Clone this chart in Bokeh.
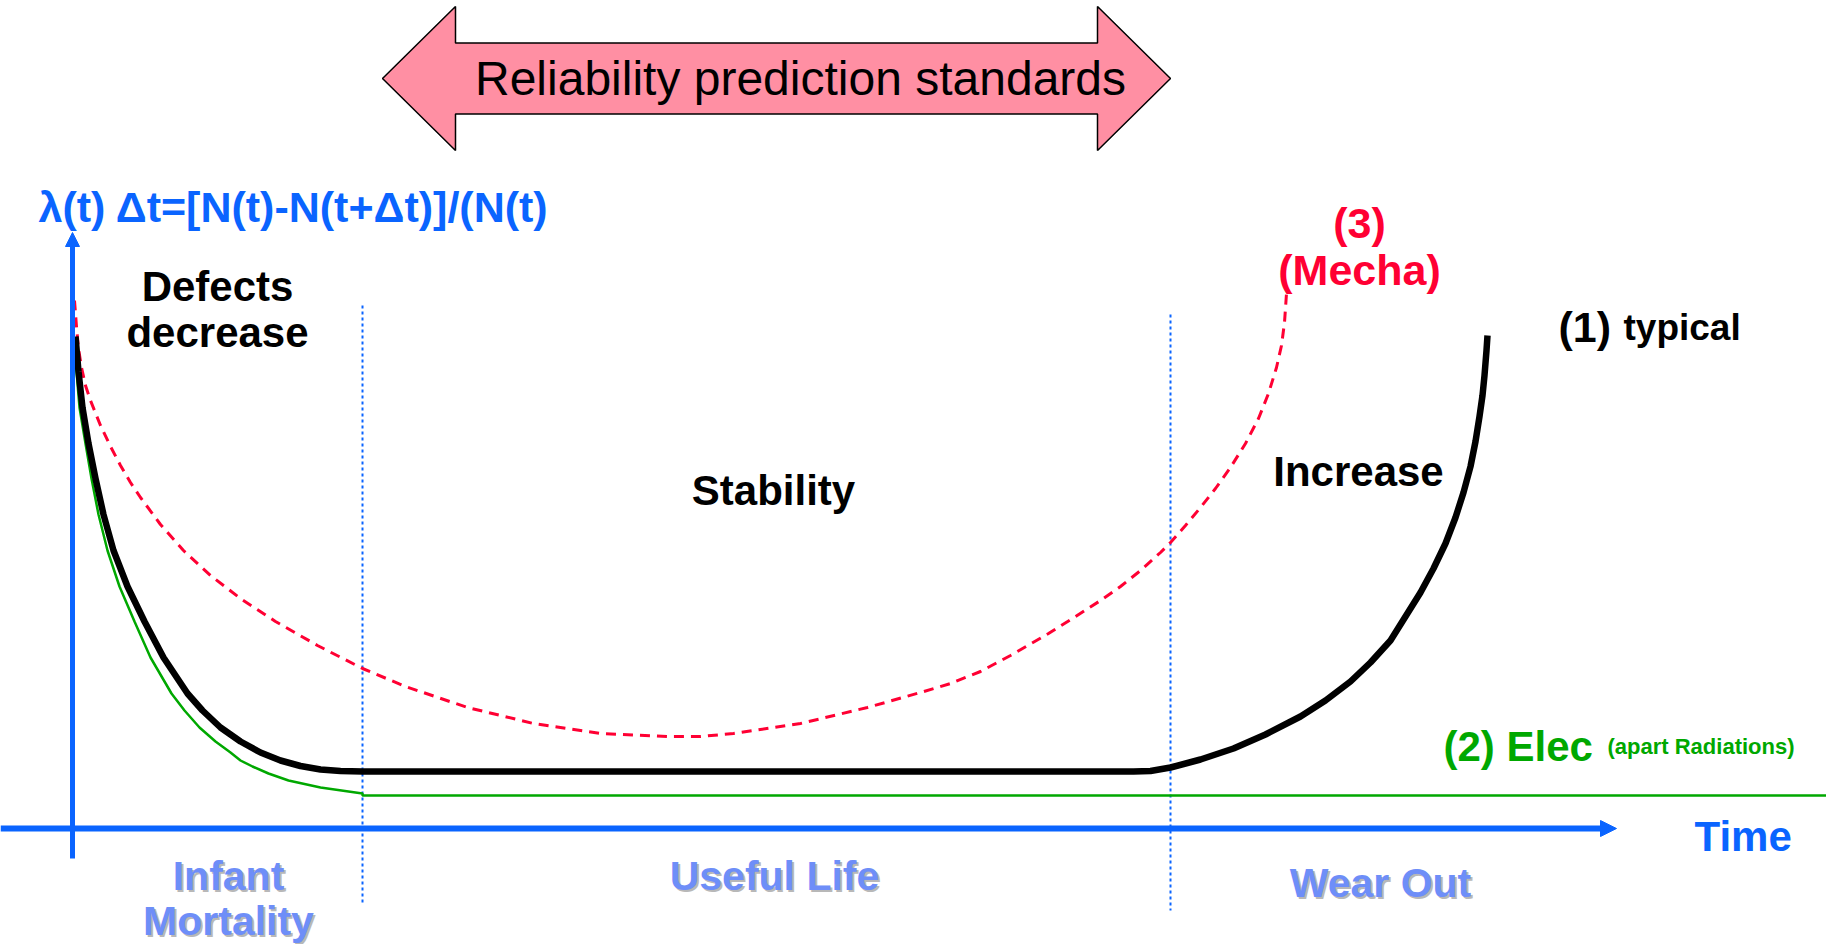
from bokeh.plotting import figure
from bokeh.models import Range1d, Arrow, NormalHead
from bokeh.core.properties import value
from bokeh.embed import file_html
from bokeh.resources import INLINE

# ---- data (time t and failure rate lambda, arbitrary units) ----
typical_t = [0.3, 0.6, 1.0, 1.6, 2.3, 3.1, 4.1, 5.5, 7.2, 9.1, 11.5, 13.0, 14.8, 16.8, 18.8, 20.8,
             22.8, 24.8, 26.8, 29.0, 106.1, 107.8, 109.8, 112.8, 116.1, 119.3, 122.8, 125.3, 127.8,
             129.8, 131.8, 133.3, 134.8, 136.1, 137.3, 138.3, 139.1, 139.8, 140.3, 140.7, 141.0,
             141.2, 141.4, 141.5]
typical_l = [49.2, 45.7, 42.1, 38.5, 35.0, 31.4, 27.8, 24.2, 20.7, 17.1, 13.5, 11.8, 10.1, 8.7, 7.6, 6.8,
             6.25, 5.9, 5.75, 5.7, 5.7, 5.75, 6.1, 6.9, 8.0, 9.4, 11.2, 12.8, 14.7,
             16.6, 18.8, 21.2, 23.6, 26.0, 28.5, 31.1, 33.6, 36.2, 38.7, 41.2, 43.3,
             45.3, 47.8, 49.3]

elec_t = [0.2, 0.4, 0.7, 1.3, 1.9, 2.6, 3.5, 4.7, 6.2, 7.8, 9.9, 11.2, 12.7, 14.3, 15.8, 16.8,
          18.0, 19.6, 21.6, 24.8, 29.0, 29.0, 175.4]
elec_l = [47.4, 45.7, 42.1, 38.5, 35.0, 31.4, 27.8, 24.2, 20.7, 17.1, 13.5, 11.8, 10.1, 8.7, 7.6, 6.8,
          6.2, 5.5, 4.8, 4.1, 3.5, 3.3, 3.3]

mecha_t = [0.2, 0.4, 0.6, 0.9, 1.3, 1.8, 2.8, 3.8, 4.8, 5.8, 6.8, 8.8, 11.1, 13.8, 16.8, 20.3,
           24.5, 29.0, 33.3, 39.5, 46.1, 52.8, 59.5, 62.8, 66.1, 72.8, 79.5, 84.8, 87.8, 90.8,
           93.8, 97.6, 100.3, 102.8, 104.8, 106.8, 108.8, 109.8, 111.3, 112.8, 114.3, 115.8,
           117.3, 118.6, 119.6, 120.4, 120.9, 121.2, 121.4]
mecha_l = [52.8, 50.2, 48.0, 46.1, 44.3, 42.8, 40.3, 38.2, 36.3, 34.6, 33.1, 30.4, 27.8, 25.3, 23.0, 20.7,
           18.3, 16.0, 14.2, 12.1, 10.5, 9.5, 9.2, 9.2, 9.5, 10.5, 12.1, 13.6, 14.5, 15.7,
           17.3, 19.5, 21.2, 22.8, 24.2, 25.8, 27.6, 28.6, 30.3, 32.1, 34.0, 36.1,
           38.5, 41.0, 43.5, 46.1, 48.3, 50.6, 53.5]

phase_bounds = [29.0, 109.8]          # end of infant mortality, start of wear out
phase_names = ["Infant", "Mortality", "Useful Life", "Wear Out"]

BLUE = "#0a64ff"
LIGHT_BLUE = "#6e8ef8"
RED = "#ff0033"
GREEN = "#00a800"
FONT = "Liberation Sans"

p = figure(width=1826, height=944, output_backend="svg", toolbar_location=None,
           x_range=Range1d(-7.2, 175.4), y_range=Range1d(-11.6, 82.8),
           min_border=0, background_fill_color="white", border_fill_color="white")
p.axis.visible = False
p.grid.visible = False
p.outline_line_color = None

# ---- top double arrow (useful-life span) ----
a0, a1 = 31.0, 109.8
hl = 7.3
ac, bh, hh = 75.0, 3.55, 7.2
p.patch([a0, a0 + hl, a0 + hl, a1 - hl, a1 - hl, a1, a1 - hl, a1 - hl, a0 + hl, a0 + hl],
        [ac, ac + hh, ac + bh, ac + bh, ac + hh, ac, ac - hh, ac - bh, ac - bh, ac - hh],
        fill_color="#ff8fa3", line_color="black", line_width=1.5)
p.text(x=[72.8], y=[75.0], text=["Reliability prediction standards"], text_align="center",
       text_baseline="middle", text_font=value(FONT), text_font_size="48px", text_color="black")

# ---- phase separators ----
p.segment(x0=phase_bounds, y0=[52.3, 51.4], x1=phase_bounds, y1=[-7.4, -8.2],
          line_color=BLUE, line_width=2, line_dash="3 3")

# ---- axes ----
p.add_layout(Arrow(end=NormalHead(size=16, fill_color=BLUE, line_color=BLUE, line_width=1),
                   x_start=-7.2, y_start=0, x_end=154.4, y_end=0, line_color=BLUE, line_width=6))
p.add_layout(Arrow(end=NormalHead(size=14, fill_color=BLUE, line_color=BLUE, line_width=1),
                   x_start=0, y_start=-3.0, x_end=0, y_end=59.6, line_color=BLUE, line_width=5))

# ---- curves ----
p.line(elec_t, elec_l, line_color=GREEN, line_width=2.5)
p.line(mecha_t, mecha_l, line_color=RED, line_width=3, line_dash="10 7")
p.line(typical_t, typical_l, line_color="black", line_width=6.5, line_join="round")

# ---- texts ----
p.text(x=[-3.4], y=[62.2], text=["λ(t) Δt=[N(t)-N(t+Δt)]/(N(t)"], text_align="left",
       text_baseline="alphabetic", text_font=value(FONT), text_font_style="bold",
       text_font_size="43px", text_color=BLUE)
p.text(x=[162.2], y=[-0.8], text=["Time"], text_align="left", text_baseline="alphabetic",
       text_font=value(FONT), text_font_style="bold", text_font_size="42px", text_color=BLUE)

p.text(x=[14.5, 14.5, 70.1, 128.6], y=[54.2, 49.6, 33.8, 35.7],
       text=["Defects", "decrease", "Stability", "Increase"], text_align="center",
       text_baseline="alphabetic", text_font=value(FONT), text_font_style="bold",
       text_font_size="42px", text_color="black")

p.text(x=[128.7, 128.7], y=[60.6, 55.9], text=["(3)", "(Mecha)"], text_align="center",
       text_baseline="alphabetic", text_font=value(FONT), text_font_style="bold",
       text_font_size="43px", text_color=RED)

p.text(x=[148.6], y=[50.15], text=["(1)"], text_align="left", text_baseline="alphabetic",
       text_font=value(FONT), text_font_style="bold", text_font_size="43px", text_color="black")
p.text(x=[155.1], y=[50.15], text=["typical"], text_align="left", text_baseline="alphabetic",
       text_font=value(FONT), text_font_style="bold", text_font_size="37px", text_color="black")

p.text(x=[137.1], y=[8.2], text=["(2) Elec"], text_align="left", text_baseline="alphabetic",
       text_font=value(FONT), text_font_style="bold", text_font_size="42px", text_color=GREEN)
p.text(x=[153.5], y=[8.2], text=["(apart Radiations)"], text_align="left", text_baseline="alphabetic",
       text_font=value(FONT), text_font_style="bold", text_font_size="22px", text_color=GREEN)

# phase names with shadow
ph_x = [15.6, 15.6, 70.2, 130.8]
ph_y = [-4.7, -9.2, -4.7, -5.4]
for col, off in (("#b8b8b8", 2), (LIGHT_BLUE, 0)):
    p.text(x=ph_x, y=ph_y, text=phase_names, x_offset=off, y_offset=off, text_align="center",
           text_baseline="alphabetic", text_font=value(FONT), text_font_style="bold",
           text_font_size="41px", text_color=col)

open("out.html", "w").write(file_html(p, INLINE))
